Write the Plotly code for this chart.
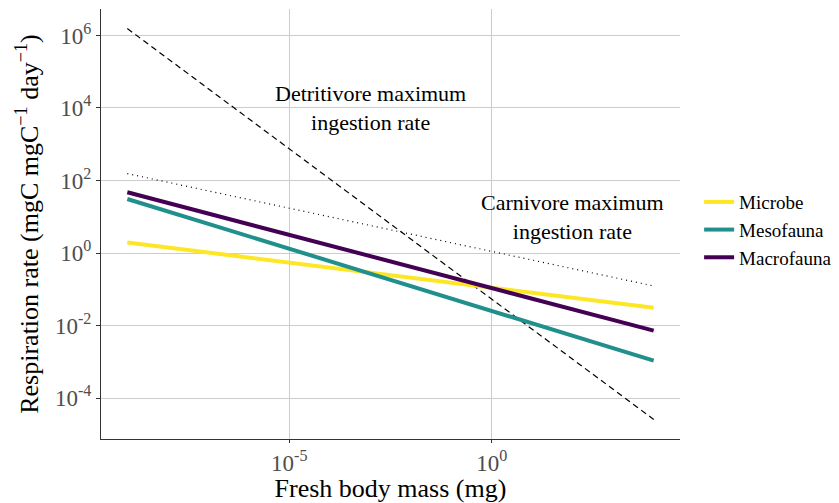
import plotly.graph_objects as go

# Data (straight lines on log-log axes)
mass = [1e-9, 1e4]
microbe = [10**0.29, 10**-1.51]
mesofauna = [10**1.49, 10**-2.97]
macrofauna = [10**1.675, 10**-2.14]
detritivore_max = [10**6.19, 10**-4.59]
carnivore_max = [10**2.19, 10**-0.91]

x_tickvals = [1e-5, 1e0]
x_ticktext = ["10<sup>-5</sup>", "10<sup>0</sup>"]
y_tickvals = [1e-4, 1e-2, 1e0, 1e2, 1e4, 1e6]
y_ticktext = ["10<sup>-4</sup>", "10<sup>-2</sup>", "10<sup>0</sup>",
              "10<sup>2</sup>", "10<sup>4</sup>", "10<sup>6</sup>"]

FONT = "Liberation Serif"

fig = go.Figure()
fig.add_trace(go.Scatter(x=mass, y=detritivore_max, mode="lines",
                         line=dict(color="black", width=1.2, dash="6px,4px"),
                         showlegend=False, hoverinfo="skip"))
fig.add_trace(go.Scatter(x=mass, y=carnivore_max, mode="lines",
                         line=dict(color="black", width=1.2, dash="1px,4px"),
                         showlegend=False, hoverinfo="skip"))
fig.add_trace(go.Scatter(x=mass, y=microbe, mode="lines", name="Microbe",
                         line=dict(color="#FDE725", width=4)))
fig.add_trace(go.Scatter(x=mass, y=mesofauna, mode="lines", name="Mesofauna",
                         line=dict(color="#21908C", width=4)))
fig.add_trace(go.Scatter(x=mass, y=macrofauna, mode="lines", name="Macrofauna",
                         line=dict(color="#440154", width=4)))

fig.add_annotation(x=-3, y=4, xref="x", yref="y",
                   text="Detritivore maximum<br>ingestion rate", showarrow=False,
                   font=dict(family=FONT, size=22, color="black"))
fig.add_annotation(x=2, y=1, xref="x", yref="y",
                   text="Carnivore maximum<br>ingestion rate", showarrow=False,
                   font=dict(family=FONT, size=22, color="black"))

fig.update_layout(
    width=831, height=495,
    margin=dict(l=93, r=159, t=1, b=64),
    paper_bgcolor="white", plot_bgcolor="white",
    font=dict(family=FONT, color="black"),
    legend=dict(x=1.033, y=0.486, xanchor="left", yanchor="middle",
                font=dict(family=FONT, size=19, color="black"),
                itemwidth=30, tracegroupgap=0, bgcolor="rgba(0,0,0,0)"),
    showlegend=True,
)
fig.update_xaxes(type="log", range=[-9.65, 4.65],
                 tickvals=x_tickvals, ticktext=x_ticktext,
                 tickfont=dict(family=FONT, size=23, color="#4d4d4d"),
                 showgrid=True, gridcolor="#cccccc", gridwidth=1,
                 showline=True, linecolor="#333333", linewidth=1.2,
                 ticks="outside", ticklen=3, tickcolor="#333333",
                 zeroline=False,
                 title=dict(text="Fresh body mass (mg)", standoff=6,
                            font=dict(family=FONT, size=26, color="black")))
fig.update_yaxes(type="log", range=[-5.13, 6.73],
                 tickvals=y_tickvals, ticktext=y_ticktext,
                 tickfont=dict(family=FONT, size=23, color="#4d4d4d"),
                 showgrid=True, gridcolor="#cccccc", gridwidth=1,
                 showline=True, linecolor="#333333", linewidth=1.2,
                 ticks="outside", ticklen=4, tickcolor="#333333",
                 zeroline=False,
                 title=dict(text="Respiration rate (mgC mgC<sup>\u22121</sup> day<sup>\u22121</sup>)",
                            standoff=8,
                            font=dict(family=FONT, size=26, color="black")))

fig.write_html("out.html")
